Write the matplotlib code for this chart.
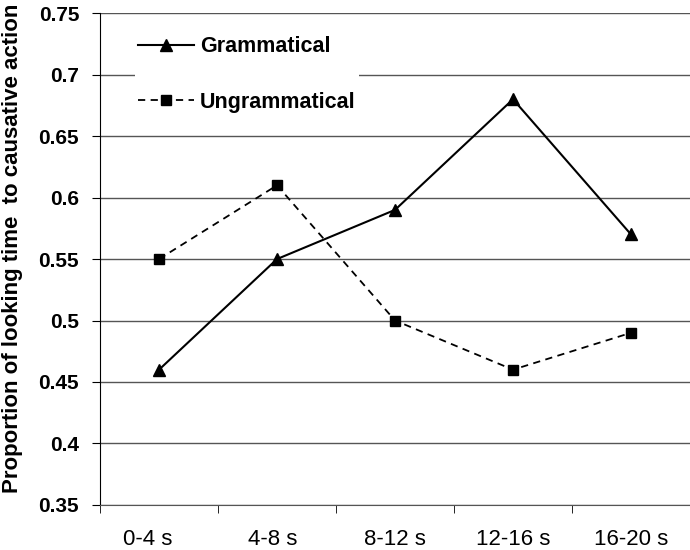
import matplotlib
matplotlib.use("Agg")
import matplotlib.pyplot as plt
from matplotlib.transforms import ScaledTranslation

# data
bins = ["0-4 s", "4-8 s", "8-12 s", "12-16 s", "16-20 s"]
grammatical = [0.46, 0.55, 0.59, 0.68, 0.57]
ungrammatical = [0.55, 0.61, 0.50, 0.46, 0.49]
yticks = [0.35, 0.4, 0.45, 0.5, 0.55, 0.6, 0.65, 0.7, 0.75]
ytick_labels = ["0.35", "0.4", "0.45", "0.5", "0.55", "0.6", "0.65", "0.7", "0.75"]

plt.rcParams["font.family"] = ["Liberation Sans", "DejaVu Sans"]

fig = plt.figure(figsize=(6.9, 5.5), dpi=100)
ax = fig.add_axes([0.145, 0.082, 0.855, 0.894])

x = list(range(len(bins)))
ax.plot(x, grammatical, "-", color="black", lw=1.5, marker="^", ms=9,
        label="Grammatical", zorder=3)
ax.plot(x, ungrammatical, "--", color="black", lw=1.3, dashes=(4, 3),
        marker="s", ms=6.5, label="Ungrammatical", zorder=3)

ax.set_ylim(0.35, 0.75)
ax.set_xlim(-0.5, 4.44)
ax.set_yticks(yticks)
ax.set_yticklabels(ytick_labels, fontsize=15, fontweight="bold")
for y in yticks:
    ax.axhline(y, color="#555555", lw=1, zorder=1)

# category labels centred, ticks on the boundaries
ax.set_xticks(x)
ax.set_xticklabels(bins, fontsize=16)
ax.tick_params(axis="x", length=0, pad=17)
ax.set_xticks([i - 0.5 for i in range(len(bins) + 1)], minor=True)
ax.tick_params(axis="x", which="minor", length=6, direction="out")
ax.tick_params(axis="y", length=6, direction="out", pad=9)

# Excel nudged the first two labels a little to the left
nudges = [-0.11, -0.04]
for lab, dx in zip(ax.get_xticklabels(), nudges):
    lab.set_transform(lab.get_transform() + ScaledTranslation(dx, 0, fig.dpi_scale_trans))

for s in ["top", "right"]:
    ax.spines[s].set_visible(False)
ax.spines["left"].set_color("black")
ax.spines["bottom"].set_color("#555555")

ax.set_ylabel("Proportion of looking time  to causative action",
              fontsize=16, fontweight="bold")
ax.yaxis.set_label_coords(-0.131, 0.522)

leg = ax.legend(loc="upper left", bbox_to_anchor=(0.059, 0.96), frameon=True,
                fancybox=False, edgecolor="none", facecolor="white", framealpha=1,
                prop={"weight": "bold", "size": 15.5}, handlelength=2.6,
                labelspacing=1.6, handletextpad=0.28, borderpad=0.15,
                borderaxespad=0)
leg.set_zorder(2)

fig.savefig("out.png", dpi=100)
